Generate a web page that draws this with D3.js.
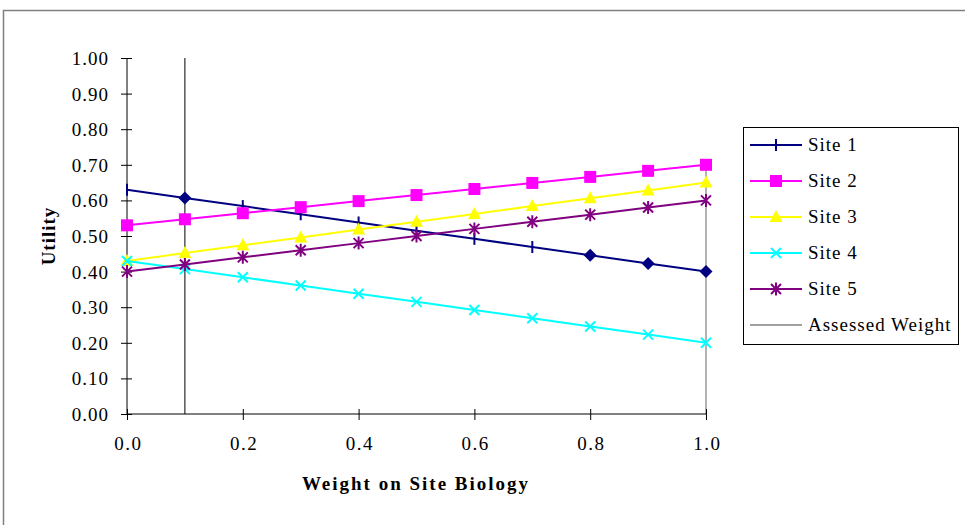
<!DOCTYPE html>
<html>
<head>
<meta charset="utf-8">
<script src="https://cdn.jsdelivr.net/npm/d3@7"></script>
<style>
  html, body { margin: 0; padding: 0; background: #fff; }
  svg { display: block; }
  text { font-family: "Liberation Serif", "Times New Roman", serif; }
</style>
</head>
<body>
<svg id="chart" width="965" height="525"></svg>
<script>
// ---- data ----
const weights = [0.0, 0.1, 0.2, 0.3, 0.4, 0.5, 0.6, 0.7, 0.8, 0.9, 1.0];
const site1 = [0.63, 0.607, 0.584, 0.561, 0.538, 0.515, 0.492, 0.469, 0.446, 0.423, 0.40];
const site2 = [0.53, 0.547, 0.564, 0.581, 0.598, 0.615, 0.632, 0.649, 0.666, 0.683, 0.70];
const site3 = [0.43, 0.452, 0.474, 0.496, 0.518, 0.54, 0.562, 0.584, 0.606, 0.628, 0.65];
const site4 = [0.43, 0.407, 0.384, 0.361, 0.338, 0.315, 0.292, 0.269, 0.246, 0.223, 0.20];
const site5 = [0.40, 0.42, 0.44, 0.46, 0.48, 0.50, 0.52, 0.54, 0.56, 0.58, 0.60];
const seriesNames = ["Site 1", "Site 2", "Site 3", "Site 4", "Site 5"];
const assessedWeight = 0.1;
const assessedLabel = "Assessed Weight";
const xTickValues = [0.0, 0.2, 0.4, 0.6, 0.8, 1.0];
const xTickLabels = ["0.0", "0.2", "0.4", "0.6", "0.8", "1.0"];
const yTickValues = [0.0, 0.1, 0.2, 0.3, 0.4, 0.5, 0.6, 0.7, 0.8, 0.9, 1.0];
const yTickLabels = ["0.00", "0.10", "0.20", "0.30", "0.40", "0.50", "0.60", "0.70", "0.80", "0.90", "1.00"];
const xTitle = "Weight on Site Biology";
const yTitle = "Utility";

// ---- styles ----
const colors = ["#000080", "#FF00FF", "#FFFF00", "#00FFFF", "#800080"];
const shapes = ["bar", "square", "triangle", "x", "star"];
// Site 1 uses a diamond marker on some points
const site1Shapes = ["bar", "diamond", "bar", "bar", "bar", "bar", "bar", "bar", "diamond", "diamond", "diamond"];

const svg = d3.select("#chart");
const X0 = 127, X1 = 706, Y0 = 414, Y1 = 58;
const x = d3.scaleLinear().domain([0, 1]).range([X0, X1]);
const y = d3.scaleLinear().domain([0, 1]).range([Y0, Y1]);

// outer chart border
svg.append("path")
  .attr("d", `M3.5,${525 + 5} V10.5 H${965 + 5}`)
  .attr("fill", "none").attr("stroke", "#808080").attr("stroke-width", 1.5);

// assessed weight line
svg.append("line")
  .attr("x1", x(assessedWeight)).attr("x2", x(assessedWeight))
  .attr("y1", y(0)).attr("y2", y(1))
  .attr("stroke", "#000").attr("stroke-width", 1);

// gray vertical line at the right end of the x range
svg.append("line")
  .attr("x1", x(1)).attr("x2", x(1))
  .attr("y1", y(0)).attr("y2", y(site2[site2.length - 1]))
  .attr("stroke", "#808080").attr("stroke-width", 1.2);

// axes
const yAxis = d3.axisLeft(y).tickValues(yTickValues)
  .tickFormat((d, i) => yTickLabels[i]).tickSize(6).tickPadding(12);
const gy = svg.append("g").attr("transform", `translate(${X0},0)`).call(yAxis);
gy.select(".domain").attr("d", `M0,${Y1}V${Y0}`).attr("stroke", "#000");
gy.selectAll(".tick line").attr("x1", -6).attr("x2", 5).attr("stroke", "#000");
gy.selectAll(".tick text")
  .attr("font-family", "Liberation Serif").attr("font-size", 19)
  .attr("letter-spacing", "1px").attr("fill", "#000").attr("dy", "0.34em");

const xAxis = d3.axisBottom(x).tickValues(xTickValues)
  .tickFormat((d, i) => xTickLabels[i]).tickSize(6).tickPadding(17);
const gx = svg.append("g").attr("transform", `translate(0,${Y0})`).call(xAxis);
gx.select(".domain").attr("d", `M${X0},0H${X1}`).attr("stroke", "#000");
gx.selectAll(".tick line").attr("y1", -5).attr("y2", 6).attr("stroke", "#000");
gx.selectAll(".tick text")
  .attr("font-family", "Liberation Serif").attr("font-size", 19)
  .attr("letter-spacing", "1.5px").attr("fill", "#000").attr("dx", "0.75px");

// axis titles
svg.append("text").attr("x", 416).attr("y", 490)
  .attr("text-anchor", "middle").attr("font-weight", "bold").attr("font-size", 19)
  .attr("letter-spacing", "2px").text(xTitle);
svg.append("text").attr("transform", "translate(55,236) rotate(-90)")
  .attr("text-anchor", "middle").attr("font-weight", "bold").attr("font-size", 19)
  .attr("letter-spacing", "1px").text(yTitle);

// marker drawing
function drawMarker(g, shape, color, cx, cy) {
  const s = 6;
  if (shape === "bar") {
    g.append("line").attr("x1", cx).attr("x2", cx).attr("y1", cy - s).attr("y2", cy + s)
      .attr("stroke", color).attr("stroke-width", 2);
  } else if (shape === "diamond") {
    g.append("path").attr("d", `M${cx},${cy - 6.5}L${cx + 6.5},${cy}L${cx},${cy + 6.5}L${cx - 6.5},${cy}Z`)
      .attr("fill", color);
  } else if (shape === "square") {
    g.append("rect").attr("x", cx - 6).attr("y", cy - 6).attr("width", 12).attr("height", 12)
      .attr("fill", color);
  } else if (shape === "triangle") {
    g.append("path").attr("d", `M${cx},${cy - 7}L${cx + 6.5},${cy + 5}L${cx - 6.5},${cy + 5}Z`)
      .attr("fill", color);
  } else if (shape === "x") {
    g.append("path").attr("d", `M${cx - 5},${cy - 5}L${cx + 5},${cy + 5}M${cx - 5},${cy + 5}L${cx + 5},${cy - 5}`)
      .attr("stroke", color).attr("stroke-width", 2).attr("fill", "none");
  } else if (shape === "star") {
    g.append("path").attr("d", `M${cx - 5},${cy - 5}L${cx + 5},${cy + 5}M${cx - 5},${cy + 5}L${cx + 5},${cy - 5}M${cx},${cy - 6.5}L${cx},${cy + 6.5}`)
      .attr("stroke", color).attr("stroke-width", 2).attr("fill", "none");
  }
}

// series
const allSeries = [site1, site2, site3, site4, site5];
const line = d3.line().x((d, i) => x(weights[i])).y(d => y(d));
allSeries.forEach((vals, si) => {
  const g = svg.append("g");
  g.append("path").datum(vals).attr("d", line)
    .attr("fill", "none").attr("stroke", colors[si]).attr("stroke-width", 2);
  vals.forEach((v, i) => {
    const shp = si === 0 ? site1Shapes[i] : shapes[si];
    drawMarker(g, shp, colors[si], x(weights[i]), y(v));
  });
});

// legend
const lg = svg.append("g");
lg.append("rect").attr("x", 743.5).attr("y", 127.5).attr("width", 215).attr("height", 217)
  .attr("fill", "#fff").attr("stroke", "#000").attr("stroke-width", 1);
const legendItems = seriesNames.concat([assessedLabel]);
legendItems.forEach((name, i) => {
  const ly = 145 + i * 36;
  const col = i < 5 ? colors[i] : "#808080";
  lg.append("line").attr("x1", 750).attr("x2", 802).attr("y1", ly).attr("y2", ly)
    .attr("stroke", col).attr("stroke-width", i < 5 ? 2 : 1.5);
  if (i < 5) drawMarker(lg, shapes[i], col, 776, ly);
  lg.append("text").attr("x", 808).attr("y", ly).attr("dy", "0.34em")
    .attr("font-size", 19).attr("letter-spacing", "1px").attr("fill", "#000").text(name);
});
</script>
</body>
</html>
